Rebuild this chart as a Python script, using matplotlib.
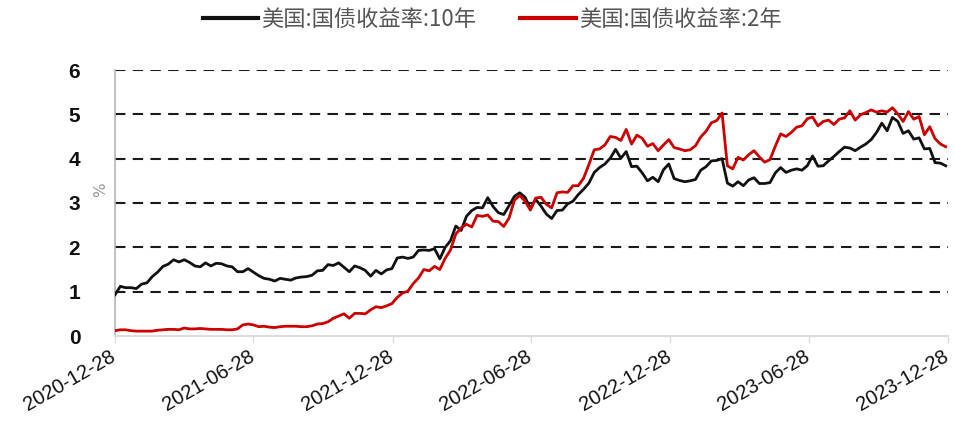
import matplotlib
matplotlib.use("Agg")
import matplotlib.pyplot as plt
import matplotlib.transforms as mtransforms
import pandas as pd

# Weekly observations starting 2020-12-28
start_date = "2020-12-28"
end_date = "2023-12-28"

y10 = [0.93,
       # 2021
       1.12, 1.09, 1.09, 1.07, 1.17, 1.20, 1.34, 1.44, 1.57, 1.62, 1.72, 1.67, 1.72,
       1.66, 1.58, 1.56, 1.65, 1.58, 1.64, 1.63, 1.58, 1.56, 1.45, 1.45, 1.52, 1.44,
       1.36, 1.30, 1.28, 1.24, 1.30, 1.28, 1.26, 1.31, 1.33, 1.34, 1.37, 1.47, 1.48,
       1.61, 1.59, 1.65, 1.55, 1.45, 1.58, 1.54, 1.48, 1.35, 1.48, 1.40, 1.49, 1.52,
       # 2022
       1.76, 1.78, 1.75, 1.78, 1.93, 1.94, 1.93, 1.97, 1.74, 2.00, 2.15, 2.48, 2.38,
       2.70, 2.83, 2.90, 2.89, 3.12, 2.92, 2.78, 2.74, 2.94, 3.15, 3.23, 3.13, 2.88,
       3.08, 2.93, 2.75, 2.65, 2.83, 2.84, 2.98, 3.04, 3.19, 3.31, 3.45, 3.69, 3.80,
       3.88, 4.01, 4.21, 4.01, 4.16, 3.82, 3.83, 3.68, 3.50, 3.58, 3.48, 3.75, 3.88,
       # 2023
       3.55, 3.51, 3.48, 3.50, 3.53, 3.74, 3.82, 3.95, 3.96, 4.00, 3.45, 3.38, 3.48,
       3.39, 3.52, 3.57, 3.44, 3.44, 3.46, 3.68, 3.80, 3.69, 3.74, 3.77, 3.74, 3.84,
       4.06, 3.83, 3.84, 3.95, 4.05, 4.16, 4.26, 4.24, 4.18, 4.26, 4.33, 4.43, 4.59,
       4.80, 4.63, 4.93, 4.84, 4.57, 4.63, 4.44, 4.47, 4.22, 4.23, 3.91, 3.90, 3.84]

y2 = [0.12,
      # 2021
      0.14, 0.14, 0.12, 0.11, 0.11, 0.11, 0.11, 0.13, 0.14, 0.15, 0.15, 0.14, 0.18,
      0.16, 0.16, 0.17, 0.16, 0.15, 0.15, 0.15, 0.14, 0.14, 0.16, 0.25, 0.27, 0.25,
      0.21, 0.22, 0.20, 0.19, 0.21, 0.22, 0.22, 0.22, 0.21, 0.21, 0.23, 0.27, 0.28,
      0.32, 0.40, 0.45, 0.50, 0.40, 0.51, 0.51, 0.50, 0.59, 0.66, 0.64, 0.68, 0.73,
      # 2022
      0.87, 0.97, 1.01, 1.18, 1.31, 1.50, 1.47, 1.57, 1.50, 1.75, 1.94, 2.30, 2.44,
      2.52, 2.46, 2.72, 2.70, 2.73, 2.59, 2.58, 2.47, 2.66, 3.06, 3.17, 3.04, 2.84,
      3.11, 3.13, 2.97, 2.89, 3.23, 3.25, 3.24, 3.39, 3.39, 3.56, 3.87, 4.20, 4.22,
      4.31, 4.50, 4.48, 4.41, 4.66, 4.33, 4.53, 4.46, 4.28, 4.34, 4.18, 4.31, 4.43,
      # 2023
      4.25, 4.22, 4.18, 4.20, 4.29, 4.49, 4.62, 4.81, 4.86, 5.03, 3.84, 3.77, 4.03,
      3.97, 4.09, 4.18, 4.04, 3.92, 3.98, 4.28, 4.56, 4.50, 4.59, 4.71, 4.74, 4.90,
      4.94, 4.74, 4.84, 4.87, 4.77, 4.89, 4.92, 5.08, 4.87, 4.99, 5.04, 5.10, 5.05,
      5.08, 5.05, 5.15, 5.01, 4.84, 5.06, 4.89, 4.95, 4.54, 4.72, 4.45, 4.33, 4.27]

label10 = "美国:国债收益率:10年"
label2 = "美国:国债收益率:2年"
tick_dates = ["2020-12-28", "2021-06-28", "2021-12-28", "2022-06-28",
              "2022-12-28", "2023-06-28", "2023-12-28"]
yticks = [0, 1, 2, 3, 4, 5, 6]

dates = pd.date_range(start_date, periods=len(y10), freq="7D")

fig = plt.figure(figsize=(9.55, 4.25), dpi=100)
ax = fig.add_axes([115/955, 1-336/425, (948-115)/955, (336-70)/425])

# grid
for v in yticks[1:]:
    ax.axhline(v, color="#1a1a1a", lw=1.5, ls=(0, (5, 3.5)), zorder=1)

l1, = ax.plot(dates, y10, color="#111111", lw=2.0, zorder=3)
l2, = ax.plot(dates, y2, color="#cc0000", lw=2.0, zorder=4)

ax.set_xlim(pd.Timestamp(start_date), pd.Timestamp(end_date))
ax.set_ylim(0, 6)
ax.set_yticks(yticks)
ax.set_yticklabels([str(t) for t in yticks], fontsize=15, fontweight="bold",
                   family="Liberation Sans", color="#111111")
ax.tick_params(axis="y", length=0, pad=25)

tks = [pd.Timestamp(d) for d in tick_dates]
ax.set_xticks(tks)
ax.set_xticklabels(tick_dates, rotation=30, ha="right", va="top",
                   rotation_mode="anchor", fontsize=14.5, family="Liberation Sans",
                   color="#111111")
ax.tick_params(axis="x", length=5, width=1, color="#dddddd", pad=3)
offset = mtransforms.ScaledTranslation(-4/72, 0, fig.dpi_scale_trans)
for lbl in ax.get_xticklabels():
    lbl.set_transform(lbl.get_transform() + offset)

for s in ["top", "right"]:
    ax.spines[s].set_visible(False)
ax.spines["left"].set_color("#b5b5b5")
ax.spines["left"].set_linewidth(1.2)
ax.spines["bottom"].set_color("#dddddd")
ax.spines["bottom"].set_linewidth(1.5)

fig.text(101/955, 1-190/425, "%", rotation=90, ha="center", va="center",
         fontsize=11, color="#999999", family="DejaVu Sans")

leg = fig.legend([l1, l2], [label10, label2], loc="center", ncol=2,
                 bbox_to_anchor=(492/955, 1-19/425), frameon=False,
                 prop={"family": ["Noto Sans CJK SC", "DejaVu Sans"], "size": 16},
                 handlelength=2.5, handletextpad=0.12, columnspacing=2.0)
for t in leg.get_texts():
    t.set_color("#555555")
for h in leg.legend_handles:
    h.set_linewidth(3)

fig.savefig("out.png", dpi=100)
